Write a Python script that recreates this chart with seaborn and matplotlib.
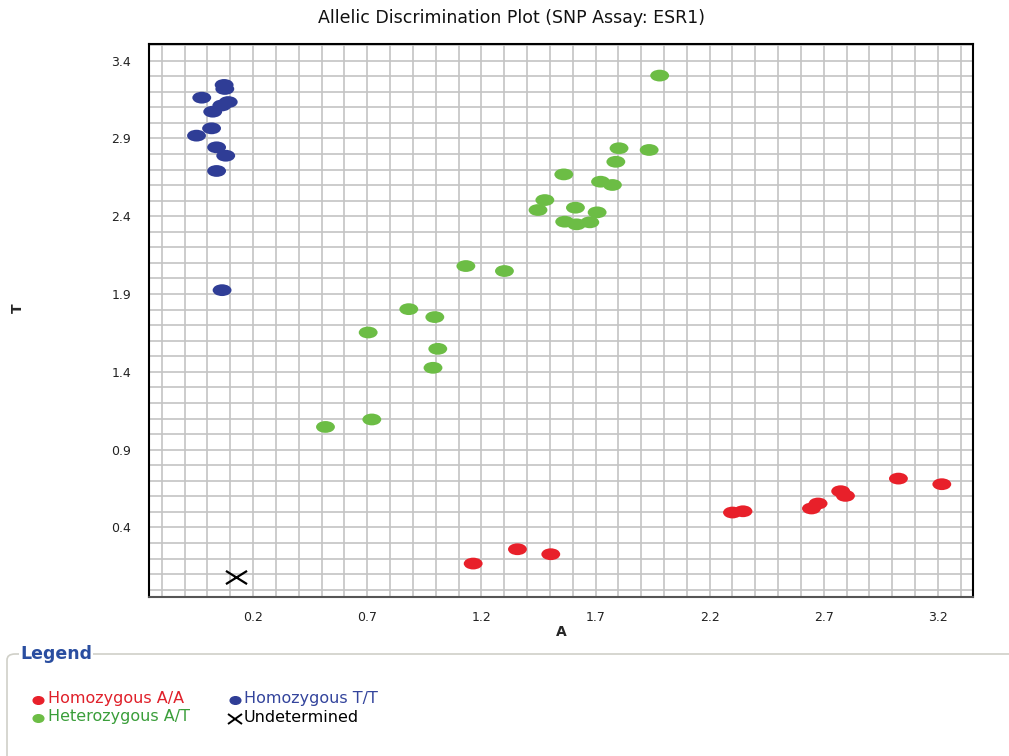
import numpy as np
import pandas as pd
import seaborn as sns
import matplotlib
matplotlib.use('Agg')
import matplotlib.pyplot as plt
from matplotlib.markers import MarkerStyle
from matplotlib.transforms import Affine2D
from matplotlib.lines import Line2D
from matplotlib.patches import FancyBboxPatch

# allele signal values
aa_x = [1.164, 1.358, 1.504, 2.300, 2.346, 2.646, 2.675, 2.774, 2.795, 3.027, 3.217]
aa_y = [0.168, 0.260, 0.228, 0.496, 0.504, 0.522, 0.554, 0.633, 0.603, 0.714, 0.678]

tt_x = [0.073, 0.076, -0.025, 0.091, 0.063, 0.023, 0.018, -0.048, 0.040, 0.080, 0.040, 0.064]
tt_y = [3.244, 3.218, 3.162, 3.134, 3.112, 3.072, 2.965, 2.918, 2.843, 2.789, 2.691, 1.925]

at_x = [1.981, 1.803, 1.935, 1.789, 1.561, 1.722, 1.774, 1.478, 1.448, 1.612, 1.707, 1.565,
        1.617, 1.675, 1.132, 1.301, 0.882, 0.996, 0.704, 1.009, 0.988, 0.720, 0.517]
at_y = [3.304, 2.837, 2.826, 2.750, 2.669, 2.622, 2.601, 2.504, 2.440, 2.455, 2.425, 2.365,
        2.348, 2.361, 2.080, 2.048, 1.803, 1.752, 1.653, 1.548, 1.426, 1.094, 1.046]

und_x = [0.127]
und_y = [0.082]

groups = ["Homozygous A/A", "Homozygous T/T", "Heterozygous A/T"]
colors = {"Homozygous A/A": "#e8202a", "Homozygous T/T": "#2f3d96", "Heterozygous A/T": "#6cbd45"}
text_colors = {"Homozygous A/A": "#e0202a", "Homozygous T/T": "#33449c", "Heterozygous A/T": "#3a9e3a"}

x_ticks = [0.2, 0.7, 1.2, 1.7, 2.2, 2.7, 3.2]
y_ticks = [0.4, 0.9, 1.4, 1.9, 2.4, 2.9, 3.4]

df = pd.DataFrame({
    "A": aa_x + tt_x + at_x,
    "T": aa_y + tt_y + at_y,
    "call": [groups[0]] * len(aa_x) + [groups[1]] * len(tt_x) + [groups[2]] * len(at_x),
})
und = pd.DataFrame({"A": und_x, "T": und_y})

sns.set_style("white")
plt.rcParams['font.family'] = ['DejaVu Sans']

fig = plt.figure(figsize=(10.09, 7.56), dpi=100)
ax = fig.add_axes([0.1477, 0.2103, 0.8167, 0.7315])

grid_c = "#c4c4c4"
ax.set_xticks(x_ticks)
ax.set_yticks(y_ticks)
ax.set_xticks(np.round(np.arange(-0.2, 3.35, 0.1), 2), minor=True)
ax.set_yticks(np.round(np.arange(0.0, 3.51, 0.1), 2), minor=True)
ax.grid(True, which="both", color=grid_c, linewidth=1.2)
ax.set_axisbelow(True)
ax.tick_params(axis="x", which="major", direction="out", length=7, width=1.2, color=grid_c,
               labelsize=9, labelcolor="#222222", pad=3)
ax.tick_params(axis="x", which="minor", direction="out", length=3.5, width=1.2, color=grid_c)
ax.tick_params(axis="y", which="major", direction="out", length=12, width=1.2, color=grid_c,
               labelsize=9, labelcolor="#222222", pad=1)
ax.tick_params(axis="y", which="minor", direction="out", length=6, width=1.2, color=grid_c)

# ellipse-shaped markers, wider than tall
ell = MarkerStyle("o", transform=Affine2D().scale(1.6, 1.0))
cross = MarkerStyle("x", transform=Affine2D().scale(1.6, 1.0))

sns.scatterplot(data=df, x="A", y="T", hue="call", palette=colors, marker=ell, s=72,
                edgecolor="none", legend=False, ax=ax, zorder=3)
sns.scatterplot(data=und, x="A", y="T", color="black", marker=cross, s=90, linewidth=1.6,
                legend=False, ax=ax, zorder=3)

ax.set_xlim(-0.256, 3.354)
ax.set_ylim(-0.047, 3.507)
for side in ["left", "top", "right"]:
    ax.spines[side].set_color("black")
    ax.spines[side].set_linewidth(1.5)
ax.spines["bottom"].set_color("#555555")
ax.spines["bottom"].set_linewidth(1.5)

ax.set_xlabel("A", fontsize=10, fontweight="bold", labelpad=1)
ax.set_ylabel("")
fig.text(18 / 1009, 1 - 308 / 756, "T", rotation=90, fontsize=10, fontweight="bold",
         ha="center", va="center")

fig.text(512 / 1009, 1 - 18 / 756, "Allelic Discrimination Plot (SNP Assay: ESR1)",
         fontsize=12.5, ha="center", va="center", color="#111111")

# legend panel at the bottom
box = FancyBboxPatch((7 / 1009, -0.2), 1.2, 0.2 + (1 - 654 / 756),
                     boxstyle="round,pad=0,rounding_size=0.008",
                     transform=fig.transFigure, facecolor="none", edgecolor="#d0d0c8",
                     linewidth=1.2)
fig.add_artist(box)
fig.text(20 / 1009, 1 - 654 / 756, "Legend", fontsize=12.5, fontweight="bold", color="#2a4ea0",
         ha="left", va="center", bbox=dict(facecolor="white", edgecolor="none", pad=1))

entries = [
    (38, 699, 48, groups[0]),
    (235, 699, 244, groups[1]),
    (38, 717, 48, groups[2]),
]
small = MarkerStyle("o", transform=Affine2D().scale(1.4, 1.0))
for mx, my, tx, name in entries:
    fig.add_artist(Line2D([mx / 1009], [1 - (my + 1) / 756], transform=fig.transFigure, marker=small,
                          markersize=5.5, color=colors[name], linestyle="none"))
    fig.text(tx / 1009, 1 - my / 756, name, fontsize=11.5, color=text_colors[name],
             ha="left", va="center")
fig.add_artist(Line2D([235 / 1009], [1 - 719 / 756], transform=fig.transFigure, marker=cross,
                      markersize=6.5, color="black", linestyle="none", markeredgewidth=1.4))
fig.text(244 / 1009, 1 - 717 / 756, "Undetermined", fontsize=11.5, color="black",
         ha="left", va="center")

plt.savefig("out.png", dpi=100)
plt.close(fig)
